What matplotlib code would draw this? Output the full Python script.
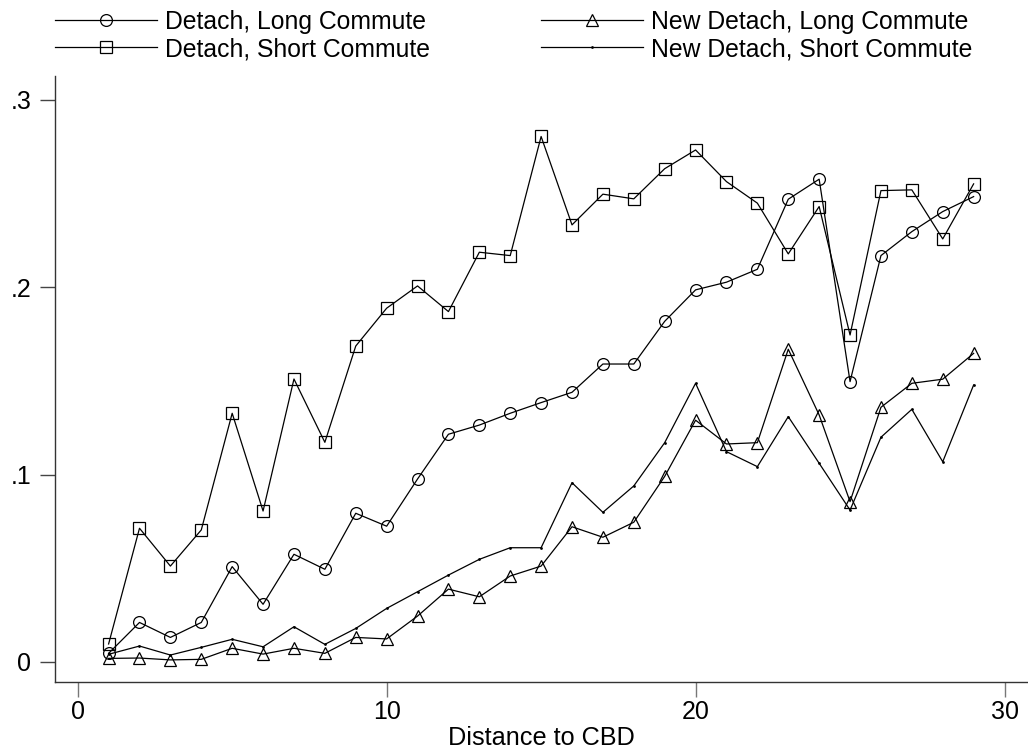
import matplotlib
matplotlib.use("Agg")
import matplotlib.pyplot as plt
from matplotlib.lines import Line2D

plt.rcParams['font.family'] = ['Liberation Sans', 'DejaVu Sans']

# Share of housing by distance to the CBD (miles)
distance = list(range(1, 30))

detach_long = [0.0045, 0.021, 0.013, 0.021, 0.0508, 0.0307, 0.0574, 0.0494,
               0.0793, 0.0724, 0.0976, 0.1215, 0.1264, 0.1327, 0.1384, 0.1439,
               0.159, 0.159, 0.1818, 0.1986, 0.2027, 0.2096, 0.247, 0.2577,
               0.1496, 0.2169, 0.2297, 0.2404, 0.2484]
detach_short = [0.0095, 0.0713, 0.0511, 0.0704, 0.1327, 0.0805, 0.151, 0.1172,
                0.1686, 0.1888, 0.2007, 0.187, 0.2187, 0.2169, 0.2805, 0.2333,
                0.2497, 0.2472, 0.2633, 0.2733, 0.2564, 0.2449, 0.2178, 0.2431,
                0.1745, 0.2516, 0.252, 0.2258, 0.2552]
new_long = [0.0018, 0.002, 0.001, 0.0013, 0.0072, 0.0041, 0.0072, 0.0045,
            0.013, 0.0122, 0.0244, 0.0388, 0.0347, 0.0458, 0.0511, 0.0721,
            0.0665, 0.0745, 0.099, 0.129, 0.1163, 0.117, 0.1669, 0.1318,
            0.0855, 0.1359, 0.1487, 0.1509, 0.1647]
new_short = [0.004, 0.0084, 0.0036, 0.0077, 0.012, 0.008, 0.0187, 0.0093,
             0.0178, 0.0285, 0.0374, 0.0463, 0.0547, 0.0609, 0.0609, 0.0956,
             0.0798, 0.0939, 0.117, 0.1487, 0.1122, 0.1042, 0.1309, 0.106,
             0.081, 0.1199, 0.1348, 0.1068, 0.1478]

labels = ["Detach, Long Commute", "Detach, Short Commute",
          "New Detach, Long Commute", "New Detach, Short Commute"]
yticks = [0, 0.1, 0.2, 0.3]
ytick_labels = ["0", ".1", ".2", ".3"]
xticks = [0, 10, 20, 30]

W, H = 1028, 749
fig = plt.figure(figsize=(W / 100, H / 100), dpi=100)
ax = fig.add_axes([55 / W, 1 - 682 / H, (W - 55) / W, (682 - 76) / H])

series = [
    (detach_long, dict(marker='o', ms=8.5)),
    (detach_short, dict(marker='s', ms=8.5)),
    (new_long, dict(marker='^', ms=8.5)),
    (new_short, dict(marker='o', ms=1.1)),
]
for vals, style in series:
    ax.plot(distance, vals, color='black', lw=0.9, mfc='none', mec='black',
            mew=0.9, **style)

ax.set_xlim(-0.735, 30.76)
ax.set_ylim(-0.0108, 0.3128)
ax.set_xticks(xticks)
ax.set_yticks(yticks)
ax.set_yticklabels(ytick_labels)
ax.set_xlabel("Distance to CBD", fontsize=18.2, labelpad=1.5)
ax.tick_params(axis='x', length=11, width=1, color='#777777', labelsize=18, pad=2)
ax.tick_params(axis='y', length=11, width=1, color='#444444', labelsize=18, pad=6)
for side in ('top', 'right'):
    ax.spines[side].set_visible(False)
for side in ('left', 'bottom'):
    ax.spines[side].set_color('#333333')
    ax.spines[side].set_linewidth(1.0)


# legend drawn by hand: two columns, two rows, marker in the middle of the line
def fig_xy(px, py):
    return px / W, 1 - py / H


legend_pos = [(55, 157, 20), (55, 157, 47), (541, 643, 20), (541, 643, 47)]
for (vals, style), label, (x0, x1, py) in zip(series, labels, legend_pos):
    xa, ya = fig_xy(x0, py)
    xb, _ = fig_xy(x1, py)
    fig.add_artist(Line2D([xa, (xa + xb) / 2, xb], [ya, ya, ya],
                          transform=fig.transFigure, color='black', lw=0.9,
                          mfc='none', mec='black', mew=0.9, markevery=[1],
                          **style))
    tx, ty = fig_xy(x1 + 8, py + 9.5)
    fig.text(tx, ty, label, fontsize=17.8, va='baseline', ha='left')

fig.savefig("out.png", dpi=100)
